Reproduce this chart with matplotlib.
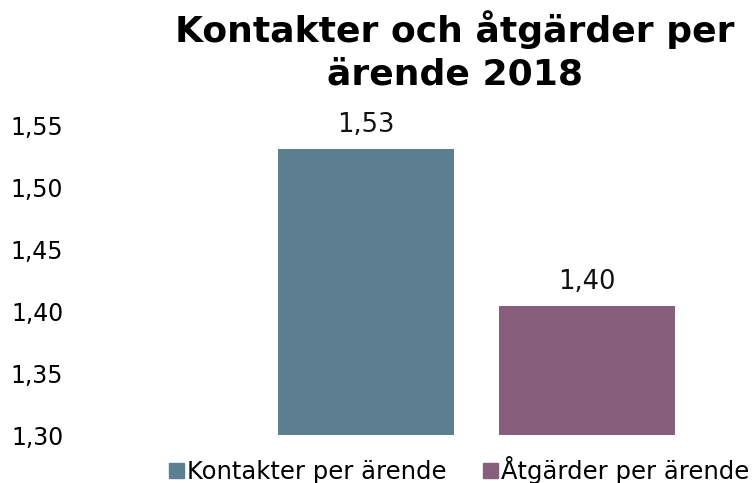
import matplotlib
matplotlib.use("Agg")
import matplotlib.pyplot as plt
from matplotlib.patches import Patch

series = ["Kontakter per ärende", "Åtgärder per ärende"]
values = [1.531, 1.404]
colors = ["#5E7F92", "#875F7D"]
yticks = [1.30, 1.35, 1.40, 1.45, 1.50, 1.55]
title = "Kontakter och åtgärder per\närende 2018"

plt.rcParams['font.family'] = ['DejaVu Sans']

fig = plt.figure(figsize=(7.55, 4.83), dpi=100)
W, H = 755, 483
# axes in pixel coords: left 75, right 740, top y=125 (1.55), bottom y=435 (1.30)
ax = fig.add_axes([75 / W, (H - 435) / H, (740 - 75) / W, (435 - 125) / H])

x = [0, 1]
base = 1.30
bars = ax.bar(x, [v - base for v in values], bottom=base, width=0.796, color=colors)
for xi, v in zip(x, values):
    ax.annotate(f"{v:.2f}".replace(".", ","), xy=(xi, v), xytext=(0, 17),
                textcoords="offset points", ha="center", va="center",
                fontsize=18.5, color="#111111")

ax.set_ylim(1.30, 1.55)
ax.set_xlim((75 - 366) / 221, (740 - 366) / 221)
ax.set_yticks(yticks)
ax.set_yticklabels([f"{t:.2f}".replace(".", ",") for t in yticks], fontsize=17)
ax.tick_params(axis="y", length=0, pad=8.5)
ax.set_xticks([])
for s in ax.spines.values():
    s.set_visible(False)

fig.text(455 / W, 1 - 51 / H, title, ha="center", va="center", fontsize=26,
         fontweight="bold", linespacing=1.3)

handles = [Patch(color=c, label=l) for c, l in zip(colors, series)]
fig.legend(handles=handles, loc="center", bbox_to_anchor=(459 / W, 1 - 470 / H),
           ncol=2, frameon=False, fontsize=17.5, handlelength=0.62, handleheight=0.62,
           handletextpad=0.12, columnspacing=1.5, borderpad=0)

fig.savefig("out.png", dpi=100)
